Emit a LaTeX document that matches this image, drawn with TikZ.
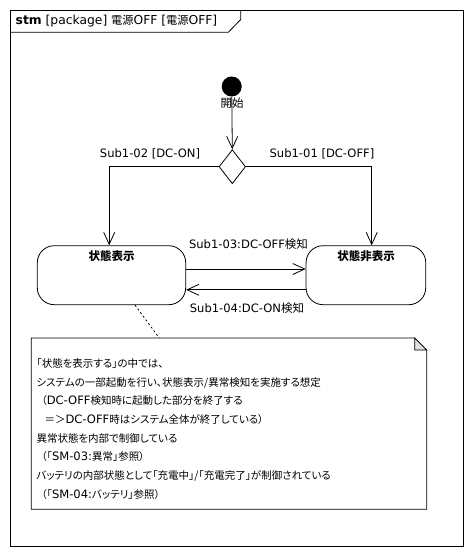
\documentclass[tikz,border=0pt]{standalone}
\usepackage{fontspec}
\setmainfont[CharacterWidth=AlternateProportional]{Noto Sans CJK JP}
\newfontfamily\latf[Scale=1.1]{DejaVu Sans}
\newcommand{\latn}[1]{{\latf #1}}
\newcommand{\kj}[1]{{\fontsize{11.5}{12}\selectfont #1}}
\usetikzlibrary{arrows.meta,shapes.geometric}
\tikzset{
  uml/.style={line width=0.8pt},
  open/.style={-{Straight Barb[length=12pt,width=11pt,line width=0.8pt]}},
  state/.style={draw,line width=0.8pt,rounded corners=17pt,inner sep=0pt},
  lbl/.style={font=\fontsize{10.5}{12}\selectfont,inner sep=0pt},
  ttl/.style={font=\fontsize{11.5}{12}\selectfont\bfseries,inner sep=0pt},
  notetxt/.style={font=\fontsize{10.5}{12}\selectfont,inner sep=0pt,anchor=base west},
}
\begin{document}
\begin{tikzpicture}[x=1pt,y=-1pt]
\useasboundingbox (0,0) rectangle (473,556);
% frame
\draw[line width=1pt] (10.5,10.5) rectangle (463,546);
\draw[line width=0.8pt] (10.5,32.3) -- (228.3,32.3) -- (240.7,19.5) -- (240.7,10.5);
\node[lbl,anchor=west,font=\fontsize{11.2}{12}\selectfont] (hdr) at (15.5,21) {\latn{\textbf{stm} [package] }電源\latn{OFF [}電源\latn{OFF]}};
% initial
\node[circle,fill=black,inner sep=0pt,minimum size=20pt] (init) at (231.7,86.5) {};
\node[lbl] (initl) at (232,103.5) {\kj{開始}};
% decision
\node[diamond,draw,line width=0.8pt,inner sep=0pt,minimum width=26.5pt,minimum height=34pt] (dec) at (232.3,166.7) {};
% states
\node[state,minimum width=148.4pt,minimum height=59pt] (s1) at (111.5,275.2) {};
\node[ttl] (s1t) at (111.7,256.5) {状態表示};
\node[state,minimum width=119.7pt,minimum height=59pt] (s2) at (365.9,275.2) {};
\node[ttl] (s2t) at (366,256.5) {状態非表示};
% transitions
\draw[uml,open] (init) -- (dec.north);
\draw[uml,open] (dec.west) -| ([xshift=-2.3pt]s1.north);
\draw[uml,open] (dec.east) -| ([xshift=5.8pt]s2.north);
\node[lbl] (t2) at (150,154) {\latn{Sub1-02 [DC-ON]}};
\node[lbl] (t1) at (322,153.5) {\latn{Sub1-01 [DC-OFF]}};
\draw[uml,open] ([yshift=6.2pt]s1.east) -- ([yshift=6.2pt]s2.west);
\draw[uml,open] ([yshift=-14.6pt]s2.east -| s2.west) -- ([yshift=-14.6pt]s1.east);
\node[lbl] (t3) at (248.5,244) {\latn{Sub1-03:DC-OFF}\kj{検知}};
\node[lbl] (t4) at (247,307.7) {\latn{Sub1-04:DC-ON}\kj{検知}};
% note
\node[minimum width=395pt,minimum height=170.7pt,inner sep=0pt] (note) at (229,423.6) {};
\draw[line width=0.8pt] (note.north west) -- ([xshift=-12pt]note.north east) -- ([yshift=-12pt]note.north east) -- (note.south east) -- (note.south west) -- cycle;
\draw[line width=0.8pt,fill=black!12] ([xshift=-12pt]note.north east) -- ([yshift=-12pt]note.north east) -- ([xshift=-12pt,yshift=-12pt]note.north east) -- cycle;
\draw[line width=0.8pt,dash pattern=on 2pt off 2.5pt] ([xshift=23.5pt]s1.south) -- ([xshift=-69.7pt]note.north);
\foreach \t [count=\i] in {
  {「状態を表示する」の中では、},
  {システムの一部起動を行い、状態表示/異常検知を実施する想定},
  {\hspace{5pt}（\latn{DC-OFF}検知時に起動した部分を終了する},
  {\hspace{8pt}＝＞\latn{DC-OFF}時はシステム全体が終了している）},
  {異常状態を内部で制御している},
  {\hspace{5pt}（「\latn{SM-03:}異常」参照）},
  {バッテリの内部状態として「充電中」/「充電完了」が制御されている},
  {\hspace{5pt}（「\latn{SM-04:}バッテリ」参照）}}
  \node[notetxt] (nl\i) at (36.3,{363.3+18.7*(\i-1)+4}) {\t};
\end{tikzpicture}
\end{document}
